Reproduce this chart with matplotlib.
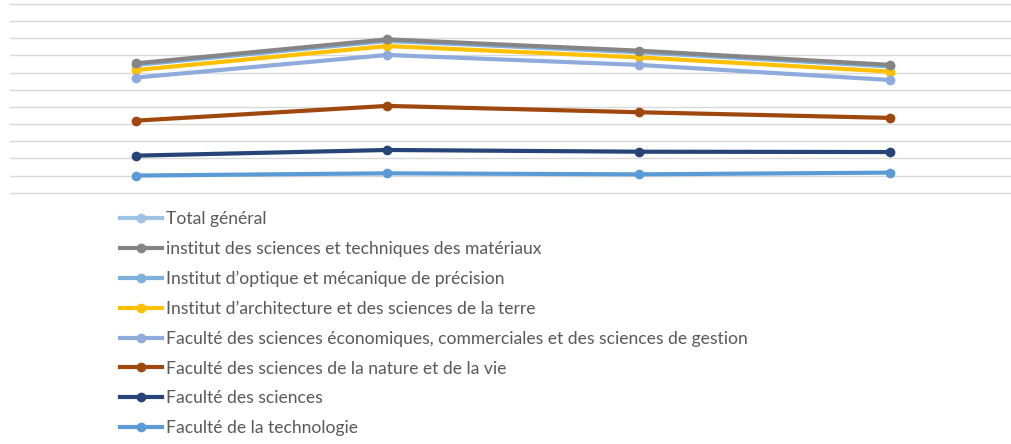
import matplotlib
matplotlib.use("Agg")
import matplotlib.pyplot as plt
from matplotlib.lines import Line2D

categories = ["P1", "P2", "P3", "P4"]
series_names = [
    "Total général",
    "institut des sciences et techniques des matériaux",
    "Institut d\u2019optique et mécanique de précision",
    "Institut d\u2019architecture et des sciences de la terre",
    "Faculté des sciences économiques, commerciales et des sciences de gestion",
    "Faculté des sciences de la nature et de la vie",
    "Faculté des sciences",
    "Faculté de la technologie",
]
total_general = [15.1, 17.9, 16.6, 14.9]
materiaux = [7.54, 8.94, 8.28, 7.45]
optique = [7.45, 8.85, 8.19, 7.36]
architecture = [7.15, 8.55, 7.89, 7.06]
economie = [6.71, 8.03, 7.45, 6.57]
nature_vie = [4.20, 5.06, 4.69, 4.36]
sciences = [2.16, 2.49, 2.39, 2.37]
technologie = [1.00, 1.13, 1.07, 1.17]

values = [total_general, materiaux, optique, architecture, economie,
          nature_vie, sciences, technologie]
colors = ["#9DC3E6", "#858585", "#7FAFDD", "#FFC000", "#8FAADC",
          "#9E480E", "#264478", "#5B9BD5"]
zorders = [3, 10, 4, 5, 6, 7, 8, 9]

W, H = 1012, 444
fig = plt.figure(figsize=(W / 100, H / 100), dpi=100)
unit = 17.15
ymin, ymax = -0.3, 11.3
top_px = 4 - (ymax - 11) * unit
bot_px = 192.7 - ymin * unit
ax = fig.add_axes([10 / W, 1 - bot_px / H, 1006 / W, (bot_px - top_px) / H])
x = list(range(len(categories)))
handles = []
for name, v, c, z in zip(series_names, values, colors, zorders):
    ax.plot(x, v, color=c, lw=3.0, marker="o", markersize=7.0,
            markeredgewidth=0, zorder=z, solid_capstyle="round")
    handles.append(Line2D([], [], color=c, lw=3.0, marker="o",
                          markersize=7.0, markeredgewidth=0))
ax.set_xlim(-0.5, 3.5)
ax.set_ylim(ymin, ymax)
ax.set_yticks(range(0, 12))
ax.yaxis.grid(True, color="#D9D9D9", lw=1.0)
ax.set_axisbelow(True)
ax.tick_params(left=False, bottom=False, labelleft=False, labelbottom=False)
for s in ax.spines.values():
    s.set_visible(False)

leg = fig.legend(handles, series_names, loc="upper left",
                 bbox_to_anchor=(120 / W, 1 - 211 / H), frameon=False,
                 prop={"family": "Lato", "size": 12.6},
                 handlelength=2.4, handletextpad=0.22, labelspacing=0.79,
                 borderpad=0, borderaxespad=0)
for t in leg.get_texts():
    t.set_color("#595959")

fig.savefig("out.png", dpi=100)
